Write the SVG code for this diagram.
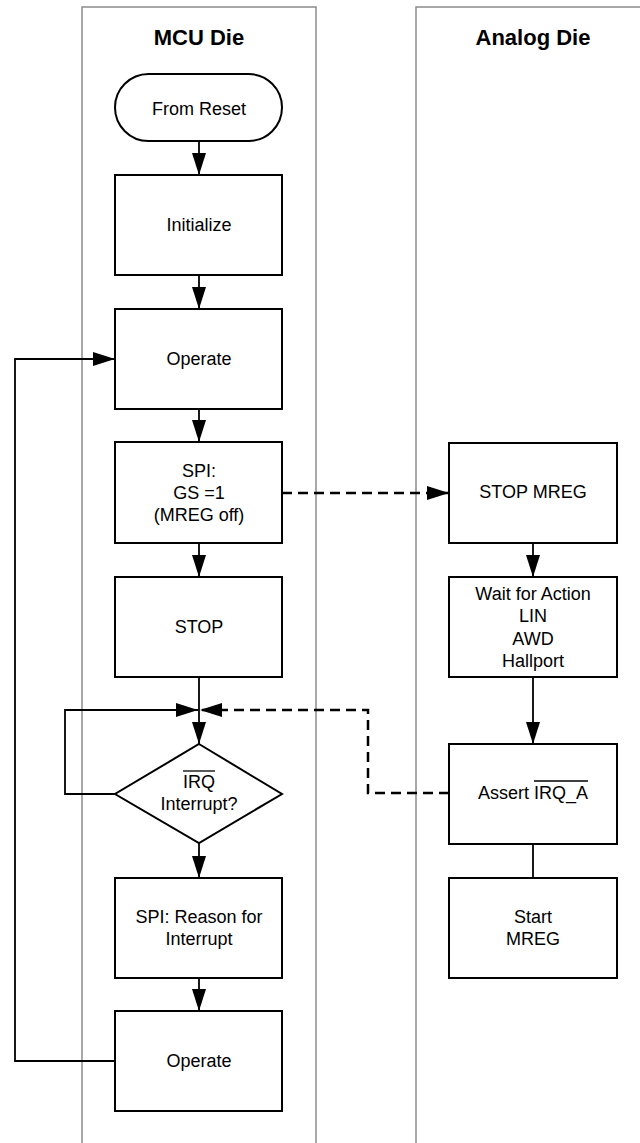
<svg xmlns="http://www.w3.org/2000/svg" width="640" height="1143" viewBox="0 0 640 1143">
  <style>
    .lane { fill: none; stroke: #8c8c8c; stroke-width: 1.5; }
    .title { font-family: "Liberation Sans", Arial, sans-serif; font-size: 22px; font-weight: bold; text-anchor: middle; fill: #000; }
    .box { fill: #fff; stroke: #000; stroke-width: 2; }
    .lbl { font-family: "Liberation Sans", Arial, sans-serif; font-size: 18px; text-anchor: middle; fill: #000; }
    .conn { fill: none; stroke: #000; stroke-width: 1.8; }
    .dash { fill: none; stroke: #000; stroke-width: 2.5; stroke-dasharray: 10 6; }
    .ovl { stroke: #000; stroke-width: 1.3; }
  </style>
  <defs>
    <marker id="arr" viewBox="0 0 22 14" refX="22" refY="7" markerWidth="22" markerHeight="14" markerUnits="userSpaceOnUse" orient="auto">
      <path d="M0,0 L22,7 L0,14 z" fill="#000"/>
    </marker>
  </defs>
  <rect width="640" height="1143" fill="#fff"/>

  <g id="lanes">
    <path class="lane" d="M82,1143 V7 H316 V1143"/>
    <path class="lane" d="M416,1143 V7 H641"/>
    <text class="title" x="199" y="45">MCU Die</text>
    <text class="title" x="533" y="45">Analog Die</text>
  </g>

  <g id="connectors">
    <line class="conn" x1="199" y1="141" x2="199" y2="175" marker-end="url(#arr)"/>
    <line class="conn" x1="199" y1="275" x2="199" y2="309" marker-end="url(#arr)"/>
    <line class="conn" x1="199" y1="409" x2="199" y2="442" marker-end="url(#arr)"/>
    <line class="conn" x1="199" y1="543" x2="199" y2="577" marker-end="url(#arr)"/>
    <line class="conn" x1="199" y1="677" x2="199" y2="744" marker-end="url(#arr)"/>
    <line class="conn" x1="199" y1="843" x2="199" y2="878" marker-end="url(#arr)"/>
    <line class="conn" x1="199" y1="978" x2="199" y2="1011" marker-end="url(#arr)"/>
    <polyline class="conn" points="115,794 65,794 65,710 198,710" marker-end="url(#arr)"/>
    <polyline class="conn" points="115,1061 15,1061 15,359 115,359" marker-end="url(#arr)"/>
    <line class="dash" x1="282" y1="493" x2="449" y2="493" marker-end="url(#arr)"/>
    <polyline class="dash" points="449,793 368,793 368,710 200,710" marker-end="url(#arr)"/>
    <line class="conn" x1="533" y1="543" x2="533" y2="577" marker-end="url(#arr)"/>
    <line class="conn" x1="533" y1="677" x2="533" y2="744" marker-end="url(#arr)"/>
    <line class="conn" x1="533" y1="844" x2="533" y2="878"/>
  </g>

  <g id="from-reset">
    <rect class="box" x="115" y="74" width="167" height="67" rx="33.5"/>
    <text class="lbl" x="199" y="114.5">From Reset</text>
  </g>
  <g id="initialize">
    <rect class="box" x="115" y="175" width="167" height="100"/>
    <text class="lbl" x="199" y="231">Initialize</text>
  </g>
  <g id="operate1">
    <rect class="box" x="115" y="309" width="167" height="100"/>
    <text class="lbl" x="199" y="365">Operate</text>
  </g>
  <g id="spi-gs">
    <rect class="box" x="115" y="442" width="167" height="101"/>
    <text class="lbl" x="199" y="477">SPI:</text>
    <text class="lbl" x="199" y="499">GS =1</text>
    <text class="lbl" x="199" y="521">(MREG off)</text>
  </g>
  <g id="stop">
    <rect class="box" x="115" y="577" width="167" height="100"/>
    <text class="lbl" x="199" y="633">STOP</text>
  </g>
  <g id="irq-decision">
    <polygon class="box" points="199,744 282,794 199,843 115,794"/>
    <text class="lbl" x="199" y="788">IRQ</text>
    <line class="ovl" x1="183" y1="771" x2="215" y2="771"/>
    <text class="lbl" x="199" y="810">Interrupt?</text>
  </g>
  <g id="spi-reason">
    <rect class="box" x="115" y="878" width="167" height="100"/>
    <text class="lbl" x="199" y="923">SPI: Reason for</text>
    <text class="lbl" x="199" y="945">Interrupt</text>
  </g>
  <g id="operate2">
    <rect class="box" x="115" y="1011" width="167" height="100"/>
    <text class="lbl" x="199" y="1067">Operate</text>
  </g>

  <g id="stop-mreg">
    <rect class="box" x="449" y="443" width="168" height="100"/>
    <text class="lbl" x="533" y="498">STOP MREG</text>
  </g>
  <g id="wait-action">
    <rect class="box" x="449" y="577" width="168" height="100"/>
    <text class="lbl" x="533" y="599.5">Wait for Action</text>
    <text class="lbl" x="533" y="622">LIN</text>
    <text class="lbl" x="533" y="644.5">AWD</text>
    <text class="lbl" x="533" y="667">Hallport</text>
  </g>
  <g id="assert-irq">
    <rect class="box" x="449" y="744" width="168" height="100"/>
    <text class="lbl" x="533" y="799">Assert IRQ_A</text>
    <line class="ovl" x1="534" y1="781" x2="588" y2="781"/>
  </g>
  <g id="start-mreg">
    <rect class="box" x="449" y="878" width="168" height="100"/>
    <text class="lbl" x="533" y="923">Start</text>
    <text class="lbl" x="533" y="945">MREG</text>
  </g>
</svg>
